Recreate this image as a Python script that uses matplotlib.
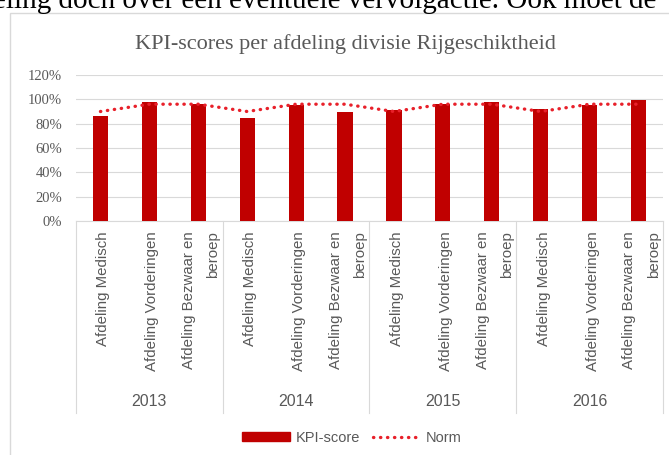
import matplotlib.pyplot as plt
import matplotlib.transforms as mtransforms
from matplotlib.patches import Patch, Rectangle
from matplotlib.lines import Line2D
from matplotlib.ticker import PercentFormatter

# data
years = ['2013', '2014', '2015', '2016']
departments = ['Afdeling Medisch', 'Afdeling Vorderingen', 'Afdeling Bezwaar en\nberoep']
kpi_score = [0.865, 0.977, 0.963,
             0.845, 0.950, 0.896,
             0.910, 0.963, 0.980,
             0.918, 0.950, 0.994]
norm = [0.90, 0.96, 0.96,
        0.90, 0.96, 0.96,
        0.90, 0.96, 0.96,
        0.90, 0.96, 0.96]

BAR_RED = '#C00000'
NORM_RED = '#E8202A'
GREY_TXT = '#595959'
GRID = '#D9D9D9'
SANS = 'Liberation Sans'
SERIF = 'Liberation Serif'
NORM_STYLE = dict(color=NORM_RED, linestyle=(0, (0.1, 2.0)), linewidth=2.4,
                  dash_capstyle='round')

fig = plt.figure(figsize=(6.69, 4.55), dpi=100)

# document text above the chart (cut off at the top)
fig.text(-7 / 669, 1 - 8 / 455, 'eling doch over een eventuele vervolgactie. Ook moet de',
         family=SERIF, fontsize=21, color='black', va='baseline', ha='left')

# chart frame
fig.patches.append(Rectangle((10 / 669, -0.01), 1.0, 1 - 13 / 455 + 0.01,
                             transform=fig.transFigure, fill=False,
                             edgecolor='#D9D9D9', linewidth=1))

ax = fig.add_axes([76 / 669, (455 - 221) / 455, (663 - 76) / 669, 146 / 455])

n = len(kpi_score)
x = list(range(n))
ax.bar(x, kpi_score, width=0.31, color=BAR_RED, zorder=3)
ax.plot(x, norm, zorder=4, **NORM_STYLE)

ax.set_xlim(-0.5, n - 0.5)
ax.set_ylim(0, 1.2)
ax.set_yticks([0, 0.2, 0.4, 0.6, 0.8, 1.0, 1.2])
ax.yaxis.set_major_formatter(PercentFormatter(1.0, decimals=0))
ax.grid(axis='y', color=GRID, linewidth=0.8, zorder=0)
for s in ['top', 'right', 'left']:
    ax.spines[s].set_visible(False)
ax.spines['bottom'].set_color(GRID)
ax.tick_params(axis='y', length=0, labelsize=10.5, labelcolor=GREY_TXT, pad=10)
ax.tick_params(axis='x', length=0)
ax.set_xticks([])
for lab in ax.get_yticklabels():
    lab.set_family(SERIF)

# two-level category axis
trans = mtransforms.blended_transform_factory(ax.transData, ax.transAxes)
for i in range(n):
    ax.text(i + 0.06, -0.07, departments[i % 3], transform=trans, rotation=90,
            ha='center', va='top', multialignment='right', linespacing=1.95,
            family=SANS, fontsize=10.8, color=GREY_TXT)
for j, yr in enumerate(years):
    ax.text(j * 3 + 1, (221 - 402) / 146, yr, transform=trans, ha='center', va='center',
            family=SANS, fontsize=11.5, color=GREY_TXT)
for b in [-0.5, 2.5, 5.5, 8.5, 11.5]:
    ax.plot([b, b], [0, (221 - 413) / 146], transform=trans, color=GRID,
            linewidth=0.8, clip_on=False)

fig.text(345 / 669, 1 - 44 / 455, 'KPI-scores per afdeling divisie Rijgeschiktheid',
         family=SERIF, fontsize=16, color=GREY_TXT, ha='center', va='center')

handles = [Patch(facecolor=BAR_RED, edgecolor=BAR_RED),
           Line2D([0], [0], **NORM_STYLE)]
leg = fig.legend(handles, ['KPI-score', 'Norm'], loc='center', ncol=2,
                 bbox_to_anchor=(352 / 669, 1 - 438 / 455), frameon=False,
                 prop={'family': SANS, 'size': 10.5}, handlelength=3.3, handleheight=0.55,
                 handletextpad=0.35, columnspacing=0.9)
for t in leg.get_texts():
    t.set_color(GREY_TXT)

fig.savefig('out.png', dpi=100)
